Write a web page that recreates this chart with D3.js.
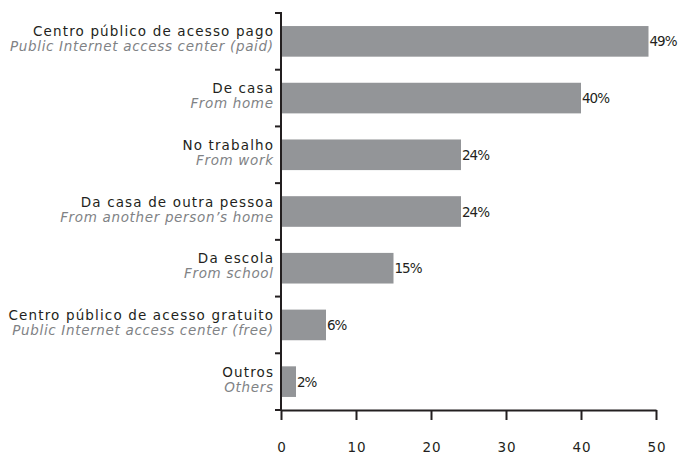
<!DOCTYPE html>
<html><head><meta charset="utf-8">
<script src="https://cdn.jsdelivr.net/npm/d3@7"></script>
<style>body{margin:0;background:#fff}svg{display:block}</style>
</head><body>
<svg id="c" width="681" height="452"></svg>
<script>
const labelsPt = ["Centro público de acesso pago","De casa","No trabalho","Da casa de outra pessoa","Da escola","Centro público de acesso gratuito","Outros"];
const labelsEn = ["Public Internet access center (paid)","From home","From work","From another person’s home","From school","Public Internet access center (free)","Others"];
const values = [49,40,24,24,15,6,2];
const xTicks = [0,10,20,30,40,50];

const svg = d3.select("#c");
const font = "'DejaVu Sans', sans-serif";
const fs = 13.5;

// letter spacing fitted so a sample text spans the reference width
function fit(text, target, italic) {
  const p = svg.append("text").attr("font-family",font).attr("font-size",fs)
    .attr("font-style", italic ? "italic" : "normal").text(text);
  const w = p.node().getComputedTextLength();
  p.remove();
  return (target - w) / (text.length - 1);
}
const lsPt = fit(labelsPt[0], 240, false);
const lsEn = fit(labelsEn[0], 263, true);
const lsVal = fit("49%", 28, false);
const lsTick = Math.max(0, fit("10", 18, false));

const x = d3.scaleLinear().domain([0,50]).range([281,656]);
const y = d3.scaleBand().domain(d3.range(values.length)).range([13,410]).paddingInner(0.46).paddingOuter(0.23);
const yb = d3.scaleBand().domain(d3.range(values.length)).range([13,410]);

svg.selectAll("rect.bar").data(values).join("rect")
  .attr("x", x(0)).attr("y", (d,i)=>y(i)).attr("width", d=>x(d)-x(0)).attr("height", y.bandwidth())
  .attr("fill","#939598");

svg.selectAll("text.val").data(values).join("text")
  .attr("x", d=>x(d)+1).attr("y", (d,i)=>y(i)+y.bandwidth()/2+5)
  .attr("font-family",font).attr("font-size",fs).attr("letter-spacing",lsVal).attr("fill","#231f20")
  .text(d=>d+"%");

const g = svg.append("g");
labelsPt.forEach((t,i)=>{
  const cy = yb(i)+yb.bandwidth()/2;
  g.append("text").attr("x",273+lsPt).attr("y",cy-5).attr("text-anchor","end")
   .attr("font-family",font).attr("font-size",fs).attr("letter-spacing",lsPt).attr("fill","#231f20").text(t);
  g.append("text").attr("x",273+lsEn).attr("y",cy+10).attr("text-anchor","end")
   .attr("font-family",font).attr("font-style","italic").attr("font-size",fs).attr("letter-spacing",lsEn).attr("fill","#808285").text(labelsEn[i]);
});

// y axis
svg.append("line").attr("x1",281).attr("x2",281).attr("y1",12).attr("y2",411).attr("stroke","#231f20").attr("stroke-width",2);
svg.selectAll("line.yt").data(d3.range(values.length+1)).join("line")
  .attr("x1",275).attr("x2",281).attr("y1",i=>i<values.length?yb(i):410).attr("y2",i=>i<values.length?yb(i):410)
  .attr("stroke","#231f20").attr("stroke-width",2);

// x axis
const xa = svg.append("g").attr("transform","translate(0,410)")
  .call(d3.axisBottom(x).tickValues(xTicks).tickSize(10).tickPadding(22).tickSizeOuter(0));
xa.select(".domain").attr("stroke","#231f20").attr("stroke-width",2);
xa.selectAll(".tick line").attr("stroke","#231f20").attr("stroke-width",2);
xa.selectAll(".tick text").attr("font-family",font).attr("font-size",fs).attr("letter-spacing",lsTick).attr("fill","#231f20")
  .attr("dx", lsTick/2);
</script>
</body></html>
